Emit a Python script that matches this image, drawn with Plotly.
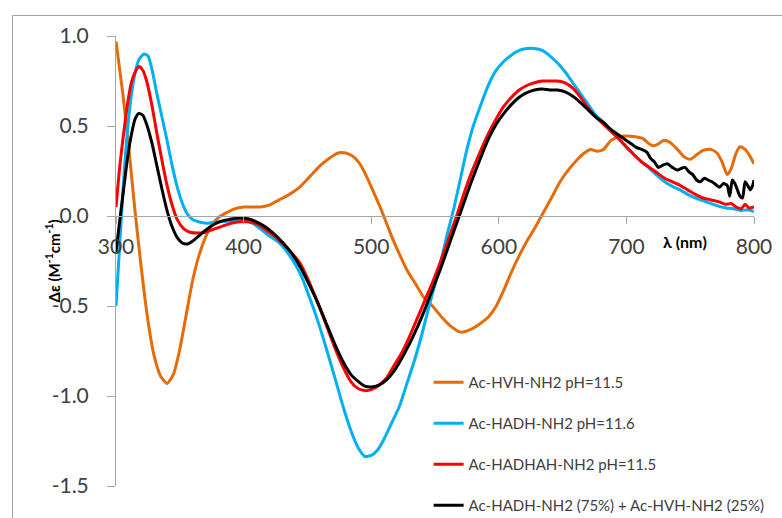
import plotly.graph_objects as go

# ---------------- data ----------------
series_names = ["Ac-HVH-NH2 pH=11.5", "Ac-HADH-NH2 pH=11.6",
                "Ac-HADHAH-NH2 pH=11.5", "Ac-HADH-NH2 (75%) + Ac-HVH-NH2 (25%)"]
series_colors = ["#E46C0A", "#00B0F0", "#FF0000", "#000000"]

hvh_wl = [300, 305, 310, 315, 320, 325, 330, 335, 340, 345, 350, 355, 360, 365, 370, 375, 380, 387, 393, 400,
          407, 413, 420, 428, 436, 444, 452, 460, 467, 474, 480, 486, 492, 497, 502, 507, 512, 517, 522, 528,
          535, 541, 548, 555, 562, 570, 578, 585, 592, 598, 604, 610, 616, 622, 628, 635, 642, 648, 655, 661,
          667, 672, 677, 682, 688, 694, 700, 707, 713, 718, 721, 725, 729, 734, 740, 745, 750, 755, 760, 766,
          771, 775, 779, 782, 786, 789, 793, 797, 800]
hvh_de = [0.97, 0.70, 0.38, 0.02, -0.30, -0.58, -0.78, -0.89, -0.93, -0.88, -0.74, -0.55, -0.36, -0.22, -0.12, -0.05, -0.01, 0.02, 0.04, 0.05,
          0.05, 0.05, 0.06, 0.09, 0.12, 0.16, 0.22, 0.28, 0.32, 0.35, 0.35, 0.33, 0.28, 0.21, 0.13, 0.05, -0.04, -0.13, -0.21, -0.30,
          -0.38, -0.45, -0.50, -0.56, -0.61, -0.645, -0.63, -0.60, -0.56, -0.50, -0.41, -0.31, -0.22, -0.14, -0.07, 0.02, 0.11, 0.19, 0.26, 0.31,
          0.35, 0.37, 0.36, 0.37, 0.42, 0.44, 0.445, 0.44, 0.43, 0.40, 0.39, 0.40, 0.42, 0.41, 0.37, 0.33, 0.315, 0.34, 0.365, 0.37,
          0.35, 0.30, 0.23, 0.26, 0.35, 0.385, 0.37, 0.33, 0.29]

hadh_wl = [300, 303, 306, 310, 314, 318, 322, 325, 328, 332, 336, 340, 344, 348, 352, 356, 360, 366, 372, 378,
           385, 392, 400, 407, 413, 418, 428, 438, 445, 450, 458, 465, 472, 478, 484, 490, 495, 500, 505, 510,
           516, 522, 528, 534, 540, 545, 550, 555, 560, 565, 570, 575, 580, 586, 592, 598, 604, 610, 616, 622,
           628, 634, 640, 646, 652, 658, 664, 670, 676, 682, 688, 694, 700, 706, 712, 718, 724, 730, 736, 742,
           748, 754, 760, 766, 772, 778, 784, 790, 795, 800]
hadh_de = [-0.50, -0.15, 0.20, 0.55, 0.76, 0.87, 0.90, 0.89, 0.82, 0.68, 0.55, 0.42, 0.28, 0.16, 0.07, 0.01, -0.02, -0.035, -0.04, -0.035,
           -0.03, -0.025, -0.025, -0.04, -0.07, -0.10, -0.15, -0.24, -0.33, -0.42, -0.58, -0.74, -0.91, -1.06, -1.19, -1.29, -1.335, -1.33, -1.30, -1.24,
           -1.15, -1.06, -0.93, -0.80, -0.65, -0.51, -0.38, -0.24, -0.09, 0.05, 0.21, 0.37, 0.50, 0.62, 0.73, 0.81, 0.86, 0.895, 0.92, 0.93,
           0.93, 0.92, 0.89, 0.85, 0.80, 0.74, 0.68, 0.62, 0.56, 0.52, 0.47, 0.43, 0.38, 0.34, 0.30, 0.265, 0.225, 0.19, 0.165, 0.145,
           0.12, 0.10, 0.085, 0.07, 0.055, 0.045, 0.04, 0.03, 0.035, 0.025]

hadhah_wl = [300, 303, 306, 309, 312, 315, 318, 321, 324, 328, 332, 336, 340, 344, 348, 353, 358, 364, 370, 376,
             382, 388, 394, 400, 406, 412, 418, 424, 430, 437, 444, 451, 458, 465, 472, 478, 484, 490, 495, 500,
             506, 512, 518, 524, 530, 536, 542, 548, 554, 560, 566, 572, 578, 585, 592, 598, 604, 610, 616, 622,
             628, 634, 640, 646, 652, 658, 664, 670, 676, 682, 688, 694, 700, 706, 712, 718, 724, 730, 736, 742,
             748, 754, 760, 766, 772, 778, 782, 786, 790, 793, 796, 800]
hadhah_de = [0.05, 0.28, 0.46, 0.62, 0.74, 0.80, 0.83, 0.81, 0.75, 0.62, 0.46, 0.31, 0.17, 0.06, -0.02, -0.07, -0.09, -0.095, -0.09, -0.075,
             -0.06, -0.045, -0.035, -0.03, -0.035, -0.05, -0.08, -0.11, -0.15, -0.20, -0.26, -0.36, -0.48, -0.61, -0.74, -0.84, -0.92, -0.96, -0.97, -0.965,
             -0.94, -0.90, -0.83, -0.76, -0.67, -0.57, -0.47, -0.37, -0.26, -0.14, -0.02, 0.11, 0.23, 0.35, 0.46, 0.54, 0.61, 0.66, 0.70, 0.725,
             0.74, 0.75, 0.75, 0.75, 0.74, 0.71, 0.66, 0.60, 0.55, 0.51, 0.47, 0.43, 0.385, 0.34, 0.30, 0.27, 0.24, 0.21, 0.19, 0.17,
             0.145, 0.12, 0.10, 0.09, 0.08, 0.065, 0.07, 0.05, 0.04, 0.065, 0.045, 0.05]

mix_wl = [300, 303, 306, 309, 312, 315, 318, 321, 324, 328, 332, 336, 340, 344, 348, 352, 356, 360, 365, 370,
          376, 382, 388, 394, 400, 406, 412, 418, 424, 431, 438, 445, 452, 458, 465, 472, 478, 484, 490, 495,
          500, 506, 512, 518, 524, 530, 536, 542, 548, 554, 560, 566, 572, 578, 585, 592, 598, 604, 610, 616,
          622, 628, 634, 640, 646, 652, 658, 664, 670, 676, 682, 688, 694, 700, 704, 708, 712, 716, 719, 722,
          725, 728, 732, 736, 740, 743, 746, 749, 752, 755, 758, 761, 764, 767, 770, 773, 776, 779, 781, 783,
          785, 787, 789, 791, 793, 795, 797, 799, 800]
mix_de = [-0.20, -0.02, 0.15, 0.32, 0.45, 0.54, 0.57, 0.56, 0.51, 0.41, 0.28, 0.15, 0.03, -0.06, -0.12, -0.15, -0.155, -0.14, -0.11, -0.08,
          -0.05, -0.03, -0.02, -0.012, -0.012, -0.02, -0.04, -0.065, -0.10, -0.15, -0.21, -0.29, -0.39, -0.48, -0.60, -0.72, -0.81, -0.88, -0.92, -0.945,
          -0.95, -0.94, -0.91, -0.86, -0.79, -0.71, -0.62, -0.52, -0.41, -0.30, -0.18, -0.06, 0.06, 0.18, 0.31, 0.43, 0.51, 0.57, 0.62, 0.66,
          0.685, 0.70, 0.705, 0.70, 0.70, 0.69, 0.665, 0.63, 0.59, 0.55, 0.52, 0.48, 0.45, 0.42, 0.40, 0.38, 0.37, 0.355, 0.32, 0.30,
          0.27, 0.28, 0.29, 0.27, 0.255, 0.265, 0.27, 0.245, 0.23, 0.20, 0.19, 0.21, 0.20, 0.19, 0.175, 0.16, 0.18, 0.17, 0.11, 0.20,
          0.18, 0.145, 0.11, 0.10, 0.19, 0.17, 0.145, 0.17, 0.20]

x_ticks = [300, 400, 500, 600, 700, 800]
y_ticks = [1.0, 0.5, 0.0, -0.5, -1.0, -1.5]
y_tick_labels = ["1.0", "0.5", "0.0", "-0.5", "-1.0", "-1.5"]

# ---------------- figure ----------------
FONT = "Lato"
TXT = "#404040"
AXC = "#A6A6A6"

fig = go.Figure()
all_wl = [hvh_wl, hadh_wl, hadhah_wl, mix_wl]
all_de = [hvh_de, hadh_de, hadhah_de, mix_de]
for i, (name, col, wl, de) in enumerate(zip(series_names, series_colors, all_wl, all_de)):
    fig.add_trace(go.Scatter(x=wl, y=de, name=name, mode="lines", legendgroup=f"g{i}",
                             line=dict(color=col, width=3, shape="spline", smoothing=0.6)))

fig.update_layout(
    width=782, height=518,
    margin=dict(l=116, r=28, t=36, b=32, autoexpand=False),
    paper_bgcolor="white", plot_bgcolor="white",
    font=dict(family=FONT, color=TXT),
    showlegend=True,
    legend=dict(x=0.49, y=0.2664, xanchor="left", yanchor="top",
                font=dict(family=FONT, size=15, color=TXT),
                tracegroupgap=18.5, bgcolor="rgba(0,0,0,0)"),
    xaxis=dict(range=[300, 800], tickvals=x_ticks, showgrid=False, zeroline=False,
               showline=True, linecolor=AXC, linewidth=1, ticks="outside", ticklen=7,
               tickcolor=AXC, tickfont=dict(family=FONT, size=21, color=TXT),
               anchor="free", position=0.6, ticklabelstandoff=5),
    yaxis=dict(range=[-1.5, 1.0], tickvals=y_ticks, ticktext=y_tick_labels, showgrid=False,
               zeroline=False, showline=True, linecolor=AXC, linewidth=1, ticks="outside",
               ticklen=8, tickcolor=AXC, tickfont=dict(family=FONT, size=21, color=TXT),
               ticklabelstandoff=14),
    shapes=[dict(type="rect", xref="paper", yref="paper", x0=-0.1622, x1=1.2,
                 y0=-0.3, y1=1.0456, line=dict(color="#A0A0A0", width=1), layer="below")],
    annotations=[
        dict(text="<b>λ (nm)</b>", x=746, y=-0.14, xref="x", yref="y", showarrow=False,
             font=dict(family=FONT, size=16, color="#000000")),
        dict(text="<b>Δε (M<sup>-1</sup>cm<sup>-1</sup>)</b>", x=(41 - 116) / 638, y=0.5,
             xref="paper", yref="paper", showarrow=False, textangle=-90,
             font=dict(family=FONT, size=15, color="#000000")),
    ],
)

fig.write_html("out.html")
